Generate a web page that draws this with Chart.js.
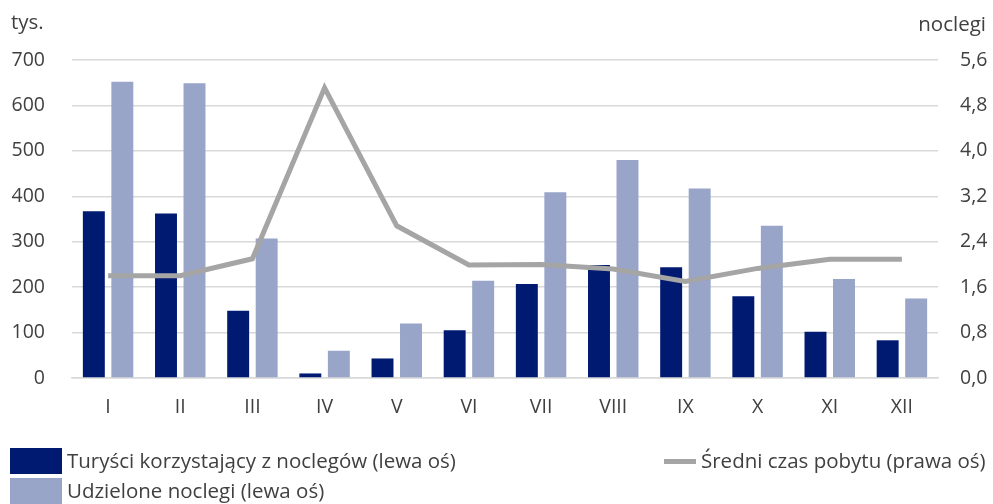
<!DOCTYPE html>
<html><head><meta charset="utf-8">
<script src="https://cdn.jsdelivr.net/npm/chart.js@4/dist/chart.umd.min.js"></script>
<style>
html,body{margin:0;padding:0;background:#fff;}
#wrap{position:relative;width:993px;height:504px;font-family:"Open Sans",sans-serif;color:#404040;}
#c{position:absolute;left:0;top:0;}
.t{position:absolute;font-size:20.5px;white-space:nowrap;line-height:1;}
.box{position:absolute;width:52px;height:26px;}
.ln{position:absolute;width:32px;height:5px;background:#A5A5A5;}
</style></head>
<body><div id="wrap">
<canvas id="c" width="993" height="504"></canvas>
<div class="t" id="ttl" style="left:11px;top:11px;">tys.</div>
<div class="t" id="ttr" style="right:7px;top:13px;">noclegi</div>
<div class="box" style="left:10px;top:448px;background:#001A72"></div>
<div class="t" id="l1" style="left:67px;top:450px;">Turyści korzystający z noclegów (lewa oś)</div>
<div class="box" style="left:10px;top:478px;background:#98A4C8"></div>
<div class="t" id="l2" style="left:67px;top:480px;">Udzielone noclegi (lewa oś)</div>
<div class="ln" style="left:664px;top:459px;"></div>
<div class="t" id="l3" style="left:701px;top:450px;">Średni czas pobytu (prawa oś)</div>
</div>
<script>
const categories = ["I","II","III","IV","V","VI","VII","VIII","IX","X","XI","XII"];
const tourists = [367, 362, 148, 10, 43, 105, 207, 249, 244, 180, 102, 83];
const nights = [652, 649, 307, 60, 120, 214, 409, 480, 417, 335, 218, 175];
const avgStay = [1.80, 1.80, 2.10, 5.11, 2.68, 1.99, 2.00, 1.92, 1.70, 1.93, 2.09, 2.09];
const leftTicks = [0, 100, 200, 300, 400, 500, 600, 700];
const rightTicks = [0, 0.8, 1.6, 2.4, 3.2, 4.0, 4.8, 5.6];

const font = {family: "'Open Sans', sans-serif", size: 19.5};
new Chart(document.getElementById('c'), {
  data: {
    labels: categories,
    datasets: [
      {type:'line', label:'Średni czas pobytu (prawa oś)', data: avgStay, yAxisID:'y1',
       borderColor:'#A5A5A5', borderWidth:5, pointRadius:0, tension:0, order:0, borderJoinStyle:'miter'},
      {type:'bar', label:'Turyści korzystający z noclegów (lewa oś)', data: tourists, yAxisID:'y',
       backgroundColor:'#001A72', categoryPercentage:0.79, barPercentage:0.77, order:1},
      {type:'bar', label:'Udzielone noclegi (lewa oś)', data: nights, yAxisID:'y',
       backgroundColor:'#98A4C8', categoryPercentage:0.79, barPercentage:0.77, order:1}
    ]
  },
  options: {
    responsive:false, animation:false, devicePixelRatio:1,
    layout:{padding:{left:0,right:0,top:60,bottom:86}},
    plugins:{legend:{display:false}, tooltip:{enabled:false}},
    scales:{
      x:{
        grid:{display:false, drawTicks:false},
        border:{display:true,color:'#D9D9D9',width:1.5},
        ticks:{color:'#404040',font:font,padding:18},
        afterFit(s){s.height=40;}
      },
      y:{
        position:'left', min:0, max:700,
        afterBuildTicks(s){s.ticks = leftTicks.map(v=>({value:v}));},
        grid:{color:'#D9D9D9',lineWidth:1.5,drawTicks:false},
        border:{display:false},
        ticks:{color:'#404040',font:font,padding:27, callback:v=>String(v)},
        afterFit(s){s.width=72;}
      },
      y1:{
        position:'right', min:0, max:5.6,
        afterBuildTicks(s){s.ticks = rightTicks.map(v=>({value:v}));},
        grid:{display:false,drawTicks:false},
        border:{display:false},
        ticks:{color:'#404040',font:font,padding:22, callback:v=>v.toFixed(1).replace('.',',')},
        afterFit(s){s.width=55;}
      }
    }
  }
});
</script>
</body></html>
